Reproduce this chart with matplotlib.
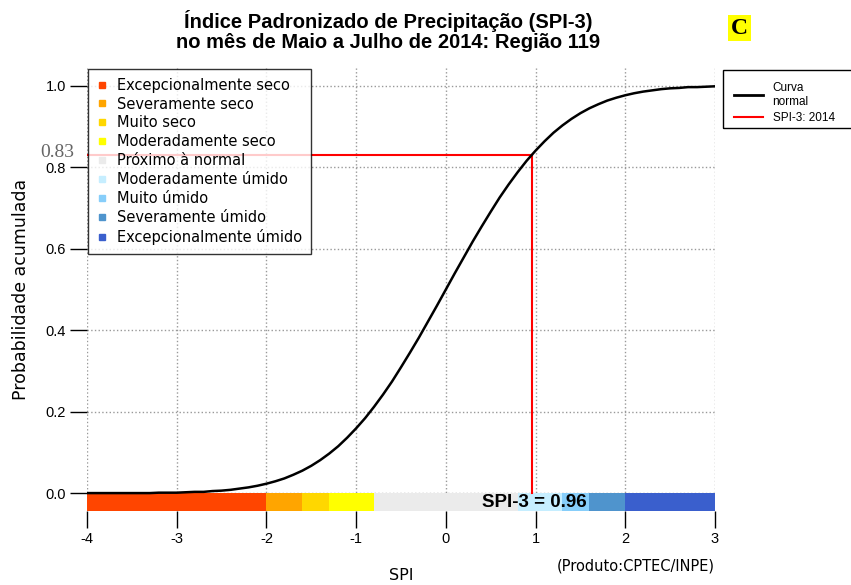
import matplotlib.pyplot as plt
from matplotlib.lines import Line2D
from matplotlib.patches import Rectangle

# SPI class bands (edges) and colours
band_edges = [-4, -2, -1.6, -1.3, -0.8, 0.8, 1.3, 1.6, 2, 3]
band_labels = ["Excepcionalmente seco", "Severamente seco", "Muito seco",
               "Moderadamente seco", "Próximo à normal", "Moderadamente úmido",
               "Muito úmido", "Severamente úmido", "Excepcionalmente úmido"]
band_colors = ["#FF4500", "#FFA500", "#FFD700", "#FFFF00", "#EBEBEB",
               "#C6EEFF", "#87CEFA", "#4F94CD", "#3A5FCD"]

# normal curve (SPI from -4 to 3, step 0.1)
curve_x = [round(-4 + 0.1 * i, 1) for i in range(71)]
curve_y = [0.000, 0.000, 0.000, 0.000, 0.000, 0.000, 0.000, 0.000, 0.001, 0.001,
           0.001, 0.002, 0.003, 0.003, 0.005, 0.006, 0.008, 0.011, 0.014, 0.018,
           0.023, 0.029, 0.036, 0.045, 0.055, 0.067, 0.081, 0.097, 0.115, 0.136,
           0.159, 0.184, 0.212, 0.242, 0.274, 0.309, 0.345, 0.382, 0.421, 0.460,
           0.500, 0.540, 0.579, 0.618, 0.655, 0.691, 0.726, 0.758, 0.788, 0.816,
           0.841, 0.864, 0.885, 0.903, 0.919, 0.933, 0.945, 0.955, 0.964, 0.971,
           0.977, 0.982, 0.986, 0.989, 0.992, 0.994, 0.995, 0.997, 0.997, 0.998,
           0.999]

spi_value = 0.96
spi_prob = 0.83

plt.rcParams['font.family'] = ['Liberation Sans', 'DejaVu Sans']
wide = ['DejaVu Sans']

fig = plt.figure(figsize=(8.51, 5.85), dpi=100)
ax = fig.add_axes([0.1022, 0.1265, 0.7380, 0.7573])

ybot = -0.044
ax.set_xlim(-4, 3)
ax.set_ylim(ybot, 1.044)

for i in range(len(band_labels)):
    ax.fill_between([band_edges[i], band_edges[i + 1]], ybot, 0,
                    color=band_colors[i], lw=0, zorder=2)

ax.plot(curve_x, curve_y, color="black", lw=1.8, zorder=4)
ax.plot([-4, spi_value], [spi_prob, spi_prob], color="red", lw=1.5, zorder=3)
ax.plot([spi_value, spi_value], [0, spi_prob], color="red", lw=1.5, zorder=3)

ax.text(spi_value + 0.03, ybot / 2, "SPI-3 = %.2f" % spi_value, ha="center", va="center",
        fontsize=13.5, fontweight="bold", zorder=5)
ax.text(-0.048, spi_prob + 0.007, "%.2f" % spi_prob, transform=ax.get_yaxis_transform(),
        ha="center", va="center", fontsize=14, color="#666666",
        family=["Liberation Serif", "DejaVu Serif"])

ax.set_xticks(range(-4, 4))
ax.set_xticklabels([str(v) for v in range(-4, 4)])
ax.set_yticks([0, 0.2, 0.4, 0.6, 0.8, 1.0])
ax.set_yticklabels(["0.0", "0.2", "0.4", "0.6", "0.8", "1.0"])
ax.tick_params(axis="x", length=12, width=1, labelsize=10.5, pad=3)
ax.tick_params(axis="y", length=12, width=1, labelsize=10.5, pad=3)
ax.grid(True, color="#999999", ls=":", lw=1, zorder=0)
ax.set_axisbelow(True)
for s in ax.spines.values():
    s.set_visible(False)

ax.set_xlabel("SPI", fontsize=11.5, labelpad=16, family=wide)
ax.set_ylabel("Probabilidade acumulada", fontsize=12.5, labelpad=11, family=wide)
ax.text(1.0, -0.125, "(Produto:CPTEC/INPE)", transform=ax.transAxes, ha="right",
        va="center", fontsize=10.5, family=wide)

fig.text(0.456, 0.947, "Índice Padronizado de Precipitação (SPI-3)\n"
         "no mês de Maio a Julho de 2014: Região 119",
         ha="center", va="center", fontsize=14.5, fontweight="bold", linespacing=1.05)
fig.text(0.869, 0.952, "C", ha="center", va="center", fontsize=17, fontweight="bold",
         family=["Liberation Serif", "DejaVu Serif"],
         bbox=dict(facecolor="yellow", edgecolor="none", pad=2))

handles = [Line2D([], [], marker="s", ls="none", color=c, markersize=5)
           for c in band_colors]
leg = ax.legend(handles, band_labels, loc="upper left", bbox_to_anchor=(0.0015, 0.998),
                frameon=True, fancybox=False, edgecolor="black",
                handlelength=0.8, handletextpad=0.6, labelspacing=0.27,
                borderpad=0.6, borderaxespad=0, prop={'family': wide, 'size': 10.5})
leg.get_frame().set_linewidth(1)
leg.set_zorder(6)

# right-hand legend box runs off the figure edge
fig.patches.append(Rectangle((723 / 851, 1 - 128 / 585), 0.2, 58 / 585,
                             transform=fig.transFigure, fill=False,
                             edgecolor="black", lw=1))
h2 = [Line2D([], [], color="black", lw=2), Line2D([], [], color="red", lw=1.5)]
leg2 = fig.legend(h2, ["Curva\nnormal", "SPI-3: 2014"], loc="upper left",
                  bbox_to_anchor=(0.862, 1 - 82 / 585), fontsize=8.5, frameon=False,
                  handlelength=2.5, handletextpad=0.8, borderaxespad=0,
                  labelspacing=0.35, borderpad=0)

fig.savefig("out.png", dpi=100)
